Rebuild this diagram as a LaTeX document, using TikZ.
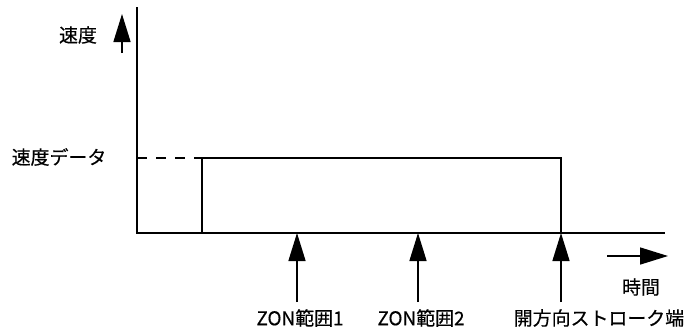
\documentclass[tikz,border=0pt]{standalone}
\usepackage{fontspec}
\setmainfont{Noto Sans CJK JP}
\newfontfamily\lblfont{Noto Sans CJK JP}[FakeBold=0.4]
\usepackage{tikz}
\usetikzlibrary{positioning, arrows.meta}

\begin{document}
\begin{tikzpicture}[x=1bp, y=-1bp,
    axisline/.style={line width=1.7bp},
    sigline/.style={line width=1.2bp},
    pointer/.style={line width=1.5bp, -{Triangle[length=28bp, width=17bp]}},
    lbl/.style={inner sep=0pt, font=\lblfont\fontsize{19}{23}\selectfont}]
        \useasboundingbox (0,0) rectangle (687,330);
        \coordinate (O) at (137,233);
        \coordinate (Ytop) at (137,7);
        \coordinate (Xend) at (665,233);
        \draw[axisline] (Ytop) -- (O) -- (Xend);
        % speed signal
        \coordinate (V0) at (137,158);
        \coordinate (R1) at (202,233);
        \coordinate (R2) at (202,158);
        \coordinate (R3) at (561,158);
        \coordinate (R4) at (561,233);
        \draw[sigline, dash pattern=on 10bp off 9bp] (V0) -- (R2);
        \draw[sigline] (R1) -- (R2) -- (R3) -- (R4);
        % axis labels
        \node[lbl] (speed) at (78,35) {速度};
        \node[lbl] (speeddata) at (59,157) {速度データ};
        \node[lbl] (time) at (641,287) {時間};
        \coordinate (S1) at (122,53);
        \coordinate (S2) at (122,14);
        \draw[pointer] (S1) -- (S2);
        \coordinate (T1) at (607,256);
        \coordinate (T2) at (668,256);
        \draw[pointer] (T1) -- (T2);
        % positions on the time axis
        \node[lbl] (zon1) at (300,318) {ZON範囲1};
        \node[lbl] (zon2) at (421,318) {ZON範囲2};
        \node[lbl] (strokeend) at (599,318) {開方向ストローク端};
        \coordinate (P1) at (297,302);
        \coordinate (P2) at (418,302);
        \coordinate (P3) at (561,302);
        \draw[pointer] (P1) -- (P1 |- O);
        \draw[pointer] (P2) -- (P2 |- O);
        \draw[pointer] (P3) -- (R4);
\end{tikzpicture}
\end{document}
